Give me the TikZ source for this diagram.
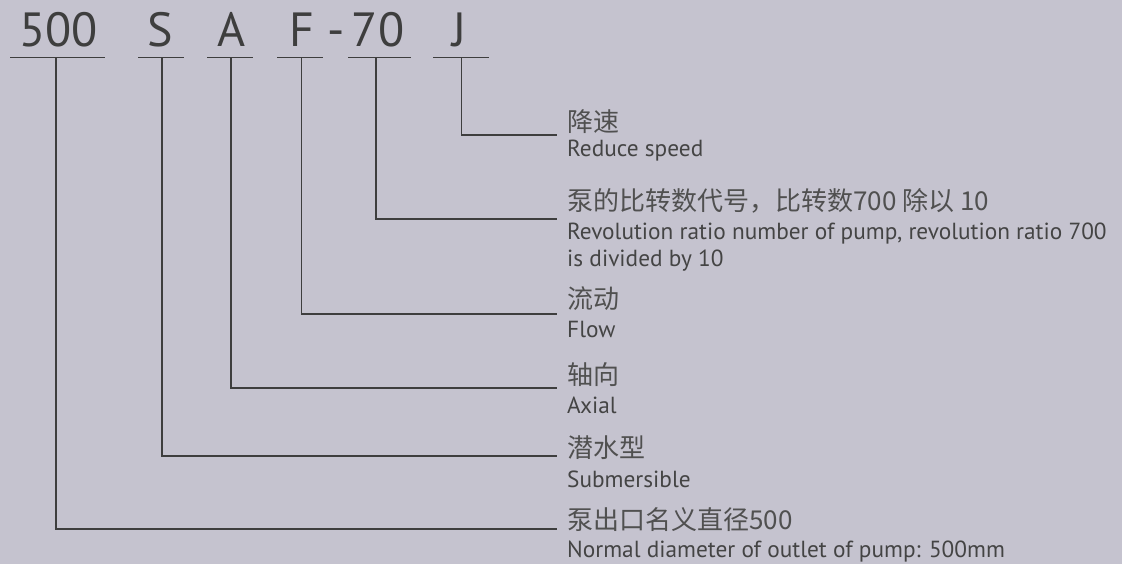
\documentclass[tikz,border=0pt]{standalone}
\usepackage{fontspec}
\setmainfont{PT Sans}
\newfontfamily\cjk{Noto Sans CJK SC}
\definecolor{bg}{HTML}{C5C3CF}
\definecolor{ink}{HTML}{3E3E3E}
\definecolor{txt}{HTML}{444444}
\definecolor{zhtxt}{HTML}{505050}
\begin{document}
\begin{tikzpicture}[x=1pt,y=-1pt,
  title/.style={font=\fontsize{48}{48}\selectfont, text=ink, inner sep=0pt, anchor=base},
  zh/.style={font=\cjk\fontsize{26}{30}\selectfont, text=zhtxt, inner sep=0pt, anchor=base west},
  en/.style={font=\fontsize{23.3}{26}\selectfont, text=txt, inner sep=0pt, anchor=base west},
  conn/.style={draw=ink, line width=1.2pt}]
\fill[bg] (0,0) rectangle (1122,564);
\useasboundingbox (0,0) rectangle (1122,564);
% title characters
\node[title] (t500) at (58.5,47) {500};
\node[title] (tS) at (160.5,47) {S};
\node[title] (tA) at (231.5,47) {A};
\node[title] (tF) at (302,47) {F};
\node[title] (tdash) at (336.5,47) {-};
\node[title] (t70) at (378,47) {70};
\node[title] (tJ) at (459.5,47) {J};
% underlines and connectors
\foreach \name/\xa/\xb/\xv/\yl in {500/10/105.3/56/529, S/138/184/162/456, A/207/253/231/388, F/277/323/301.7/314, 70/348/411/376/219, J/433/489/461.7/135}{
  \coordinate (a\name) at (\xa,57.7);
  \coordinate (b\name) at (\xb,57.7);
  \coordinate (u\name) at (\xv,57.7);
  \coordinate (e\name) at (557,\yl);
  \draw[conn] (a\name) -- (b\name);
  \draw[conn] (u\name) |- (e\name);
}
% descriptions
\node[zh] (zJ) at (567,132) {降速};
\node[en] (nJ) at (567,157) {Reduce speed};
\node[zh] (z70) at (567,211) {泵的比转数代号，比转数700 除以 10};
\node[en] (n70) at (567,240) {Revolution ratio number of pump, revolution ratio 700};
\node[en] (n70b) at (567,266) {is divided by 10};
\node[zh] (zF) at (567,308) {流动};
\node[en] (nF) at (567,337) {Flow};
\node[zh] (zA) at (567,384) {轴向};
\node[en] (nA) at (567,413) {Axial};
\node[zh] (zS) at (567,457) {潜水型};
\node[en] (nS) at (567,487) {Submersible};
\node[zh] (z500) at (567,529) {泵出口名义直径500};
\node[en] (n500) at (567,557) {Normal diameter of outlet of pump: 500mm};
\end{tikzpicture}
\end{document}
